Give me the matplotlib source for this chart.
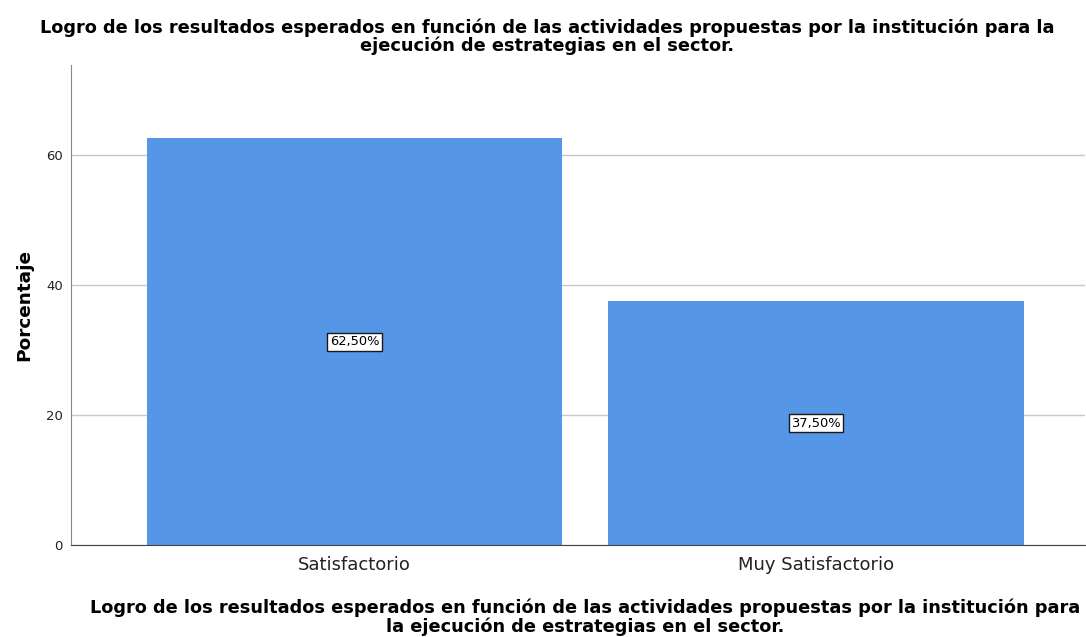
import matplotlib.pyplot as plt

plt.rcParams['font.family'] = ['DejaVu Sans']

# data
categories = ['Satisfactorio', 'Muy Satisfactorio']
percentages = [62.5, 37.5]
labels = ['62,50%', '37,50%']
title = ('Logro de los resultados esperados en función de las actividades propuestas por la institución para la\n'
         'ejecución de estrategias en el sector.')
xlabel = ('Logro de los resultados esperados en función de las actividades propuestas por la institución para\n'
          'la ejecución de estrategias en el sector.')

fig = plt.figure(figsize=(10.86, 6.37), dpi=100)
ax = fig.add_axes([0.0654, 0.1444, 0.9337, 0.7536])

x = list(range(len(categories)))
ax.bar(x, percentages, width=0.9, color='#5596e6', zorder=2)

for xi, val, lab in zip(x, percentages, labels):
    ax.text(xi, val / 2, lab, ha='center', va='center', fontsize=9.4, color='black', zorder=3,
            bbox=dict(boxstyle='square,pad=0.18', facecolor='white', edgecolor='#1a1a1a', linewidth=1))

ax.set_xlim(-0.614, 1.583)
ax.set_ylim(0, 73.8)
ax.set_yticks([0, 20, 40, 60])
ax.set_xticks(x)
ax.set_xticklabels(categories, fontsize=13, color='#222222')
ax.tick_params(axis='y', labelsize=9.5, length=0, pad=6, colors='#222222')
ax.tick_params(axis='x', length=0, pad=8)
ax.grid(axis='y', color='#c8c8c8', linewidth=1, zorder=1)

for s in ['top', 'right']:
    ax.spines[s].set_visible(False)
ax.spines['left'].set_color('#888888')
ax.spines['bottom'].set_color('#444444')

ax.set_ylabel('Porcentaje', fontsize=13.3, fontweight='bold', labelpad=9)
fig.text(0.504, 0.942, title, ha='center', va='center', fontsize=12.8, fontweight='bold', linespacing=0.98)
fig.text(0.539, 0.031, xlabel, ha='center', va='center', fontsize=12.8, fontweight='bold', linespacing=0.98)

plt.savefig('out.png', dpi=100)
